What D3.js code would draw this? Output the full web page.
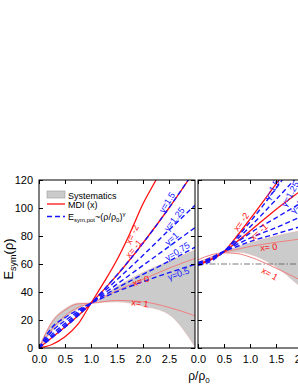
<!DOCTYPE html>
<html lang="en">
<head>
<meta charset="UTF-8">
<title>Symmetry energy</title>
<script src="https://d3js.org/d3.v7.min.js"></script>
<style>
  body { margin: 0; background: #fff; }
  svg { display: block; font-family: Arial, "Liberation Sans", sans-serif; }
  .axis text { font-size: 11px; fill: #000; }
  .axis line { stroke: #000; }
  .axis .domain { display: none; }
  .lbl { font-size: 9px; }
</style>
</head>
<body>
<svg id="chart" width="298" height="385"></svg>
<script>
// density grid (rho/rho0) shared by most curves
const rhoGrid = [0, 0.25, 0.5, 0.75, 1, 1.5, 2, 2.5, 3];

// left panel
const leftBandUpper = [0, 19, 28, 32, 32, 44, 54, 62, 70];
const leftBandLower = [0, 12, 21, 28, 32, 33, 30, 24, 1];
const leftX1  = [0, 18.5, 27, 31.5, 32, 34, 33, 29, 23];
const leftX0  = [0, 13.5, 23, 29, 32, 41, 49, 57, 64];
const leftXm1 = [0, 7.5, 15, 23, 32, 52, 75, 100, 127];
const rhoXm2  = [0, 0.25, 0.5, 0.75, 1, 1.25, 1.5, 1.75, 2, 2.25, 2.35];
const leftXm2 = [0, 2.5, 8, 17, 32, 47, 63, 82, 103, 120, 127];
const leftGamma = {
  "0.5":  [0, 14.7, 21.7, 27.2, 32, 40.3, 47.4, 53.8, 59.8],
  "0.75": [0, 11.9, 19.5, 26, 32, 42.8, 52.6, 62, 72],
  "1":    [0, 9.8, 17.6, 24.9, 32, 45.6, 59, 72.5, 86],
  "1.25": [0, 8.4, 16.1, 23.9, 32, 48.8, 66.2, 84.3, 102],
  "1.5":  [0, 7.4, 14.8, 23, 32, 52.2, 74.9, 100.1, 127.3]
};

// right panel
const rightBandUpper = [60, 64, 69, 72, 75, 80, 84, 87, 90];
const rightBandLower = [60, 63.5, 68, 68.5, 67, 58, 43, 30, 18];
const rightX1  = [63, 66.5, 68, 67.5, 65, 57, 48, 38, 28];
const rightX0  = [61, 65, 68.5, 70.5, 72.5, 75.5, 78, 80, 82];
const rightXm1 = [60, 63.5, 68.5, 76, 83.5, 99, 113, 127, 140];
const rightXm2 = [59.5, 63, 69, 80, 92, 117, 142, 167, 192];
const rightGamma = {
  "0.5":  [61, 64.5, 69, 72.5, 76, 81.5, 87, 92, 97],
  "0.75": [60.5, 64, 69, 74, 78.5, 86, 94, 101, 108],
  "1":    [60, 63.5, 69, 75.5, 82, 93, 104, 115, 126],
  "1.25": [59.5, 63, 69, 77.5, 86.5, 106, 126, 146, 166],
  "1.5":  [59, 62, 69, 79, 90, 114, 140, 166, 192]
};
const refLevel = 60;

const xTicks = [0, 0.5, 1, 1.5, 2, 2.5];
const yTicks = [0, 20, 40, 60, 80, 100, 120];

// curve annotations: [text, rho, E, angle, colour]
const leftNotes = [
  ["x= -2", 1.79, 81, -65, "red"],
  ["x= -1", 1.82, 71, -50, "red"],
  ["x= 0", 1.96, 48, -18, "red"],
  ["x= 1", 1.94, 32, 8, "red"],
  ["γ=1.5", 2.46, 104, -58, "blue"],
  ["γ=1.25", 2.6, 92, -52, "blue"],
  ["γ=1", 2.55, 78, -42, "blue"],
  ["γ=0.75", 2.66, 69, -32, "blue"],
  ["γ=0.5", 2.68, 53, -20, "blue"]
];
const rightNotes = [
  ["x= -2", 0.83, 90, -55, "red"],
  ["x= -1", 1.17, 83, -42, "red"],
  ["x= 0", 1.36, 72, -5, "red"],
  ["x= 1", 1.38, 53, 30, "red"],
  ["γ=1.5", 1.42, 113, -62, "blue"],
  ["γ=1.25", 1.77, 110, -60, "blue"],
  ["γ=1", 1.9, 101, -50, "blue"]
];

const RED = "#ff1010", PINK = "#f08080", BLUE = "#1515ff", GREY = "#cbcbcb";

const svg = d3.select("#chart");
const y = d3.scaleLinear().domain([0, 120]).range([348, 180]);
const xL = d3.scaleLinear().domain([0, 3]).range([39, 195]);
const xR = d3.scaleLinear().domain([0, 3]).range([198, 354]);

const defs = svg.append("defs");

function panel(id, x, opts) {
  defs.append("clipPath").attr("id", id)
    .append("rect").attr("x", x.range()[0]).attr("y", 180)
    .attr("width", x.range()[1] - x.range()[0]).attr("height", 168);

  const g = svg.append("g");
  const plot = g.append("g").attr("clip-path", `url(#${id})`);

  const zip = (xs, vs) => xs.map((r, i) => [r, vs[i]]);
  const line = d3.line().x(d => x(d[0])).y(d => y(d[1])).curve(d3.curveMonotoneX);
  const area = d3.area().x(d => x(d[0])).y0(d => y(d[1])).y1(d => y(d[2])).curve(d3.curveMonotoneX);

  plot.append("path")
    .datum(rhoGrid.map((r, i) => [r, opts.lower[i], opts.upper[i]]))
    .attr("d", area).attr("fill", GREY).attr("stroke", "#e4b4b4").attr("stroke-width", 0.6);

  if (opts.ref != null) {
    plot.append("line")
      .attr("x1", x.range()[0]).attr("x2", x.range()[1])
      .attr("y1", y(opts.ref)).attr("y2", y(opts.ref))
      .attr("stroke", "#555").attr("stroke-width", 0.8)
      .attr("stroke-dasharray", "6,2,1.5,2");
  }

  [opts.x1, opts.x0].forEach(v => {
    plot.append("path").datum(zip(rhoGrid, v)).attr("d", line)
      .attr("fill", "none").attr("stroke", PINK).attr("stroke-width", 1);
  });
  [[opts.rhoXm2, opts.xm2], [rhoGrid, opts.xm1]].forEach(([rs, v]) => {
    plot.append("path").datum(zip(rs, v)).attr("d", line)
      .attr("fill", "none").attr("stroke", RED).attr("stroke-width", 1.3);
  });

  Object.values(opts.gamma).forEach(v => {
    plot.append("path").datum(zip(rhoGrid, v)).attr("d", line)
      .attr("fill", "none").attr("stroke", BLUE).attr("stroke-width", 1.4)
      .attr("stroke-dasharray", "5,3");
  });

  opts.notes.forEach(([t, r, e, a, c]) => {
    plot.append("text").attr("class", "lbl")
      .attr("transform", `translate(${x(r)},${y(e)}) rotate(${a})`)
      .attr("text-anchor", "middle").attr("dy", "0.35em")
      .attr("fill", c === "red" ? RED : BLUE)
      .text(t);
  });

  // frame
  g.append("rect")
    .attr("x", x.range()[0]).attr("y", 180)
    .attr("width", x.range()[1] - x.range()[0]).attr("height", 168)
    .attr("fill", "none").attr("stroke", "#000").attr("stroke-width", 1);

  const minorX = d3.range(0, 3.01, 0.25);
  const minorY = d3.range(0, 121, 10);

  const xb = g.append("g").attr("class", "axis").attr("transform", "translate(0,348)");
  xb.call(d3.axisBottom(x).tickValues(minorX).tickSize(-2).tickFormat(""));
  xb.call(d3.axisBottom(x).tickValues(xTicks).tickSize(-4).tickPadding(7).tickFormat(d3.format(".1f")));

  const xt = g.append("g").attr("class", "axis").attr("transform", "translate(0,180)");
  xt.call(d3.axisTop(x).tickValues(minorX).tickSize(-2).tickFormat(""));
  xt.call(d3.axisTop(x).tickValues(xTicks).tickSize(-4).tickFormat(""));

  const yl = g.append("g").attr("class", "axis").attr("transform", `translate(${x.range()[0]},0)`);
  yl.call(d3.axisLeft(y).tickValues(minorY).tickSize(-2).tickFormat(""));
  yl.call(d3.axisLeft(y).tickValues(yTicks).tickSize(-4).tickPadding(6)
    .tickFormat(opts.yLabels ? d3.format("d") : ""));

  const yr = g.append("g").attr("class", "axis").attr("transform", `translate(${x.range()[1]},0)`);
  yr.call(d3.axisRight(y).tickValues(minorY).tickSize(-2).tickFormat(""));
  yr.call(d3.axisRight(y).tickValues(yTicks).tickSize(-4).tickFormat(""));
}

panel("clipL", xL, {
  upper: leftBandUpper, lower: leftBandLower,
  x1: leftX1, x0: leftX0, xm1: leftXm1, rhoXm2: rhoXm2, xm2: leftXm2,
  gamma: leftGamma, notes: leftNotes, yLabels: true
});
panel("clipR", xR, {
  upper: rightBandUpper, lower: rightBandLower,
  x1: rightX1, x0: rightX0, xm1: rightXm1, rhoXm2: rhoGrid, xm2: rightXm2,
  gamma: rightGamma, notes: rightNotes, yLabels: false, ref: refLevel
});

// legend
const leg = svg.append("g").attr("font-size", 9);
leg.append("rect").attr("x", 47).attr("y", 191).attr("width", 18).attr("height", 7)
  .attr("fill", GREY).attr("stroke", "#999").attr("stroke-width", 0.6);
leg.append("text").attr("x", 68).attr("y", 198.5).text("Systematics");
leg.append("line").attr("x1", 47).attr("x2", 65).attr("y1", 204).attr("y2", 204)
  .attr("stroke", RED).attr("stroke-width", 1.3);
leg.append("text").attr("x", 68).attr("y", 207.5).text("MDI (x)");
leg.append("line").attr("x1", 47).attr("x2", 65).attr("y1", 216.5).attr("y2", 216.5)
  .attr("stroke", BLUE).attr("stroke-width", 1.4).attr("stroke-dasharray", "5,3");
const lt = leg.append("text").attr("x", 68).attr("y", 219.5);
lt.append("tspan").text("E");
lt.append("tspan").attr("font-size", 6).attr("dy", 2).text("sym,pot");
lt.append("tspan").attr("dy", -2).text("~(ρ/ρ");
lt.append("tspan").attr("font-size", 6).attr("dy", 2).text("0");
lt.append("tspan").attr("dy", -2).text(")");
lt.append("tspan").attr("font-size", 6).attr("dy", -4).text("γ");

// axis titles
const yt = svg.append("text").attr("transform", "translate(13,259) rotate(-90)")
  .attr("text-anchor", "middle").attr("font-size", 13);
yt.append("tspan").text("E");
yt.append("tspan").attr("font-size", 9).attr("dy", 3).text("sym");
yt.append("tspan").attr("dy", -3).text("(ρ)");

const xtl = svg.append("text").attr("x", 199).attr("y", 380)
  .attr("text-anchor", "middle").attr("font-size", 12);
xtl.append("tspan").text("ρ/ρ");
xtl.append("tspan").attr("font-size", 8).attr("dy", 3).text("0");
</script>
</body>
</html>
